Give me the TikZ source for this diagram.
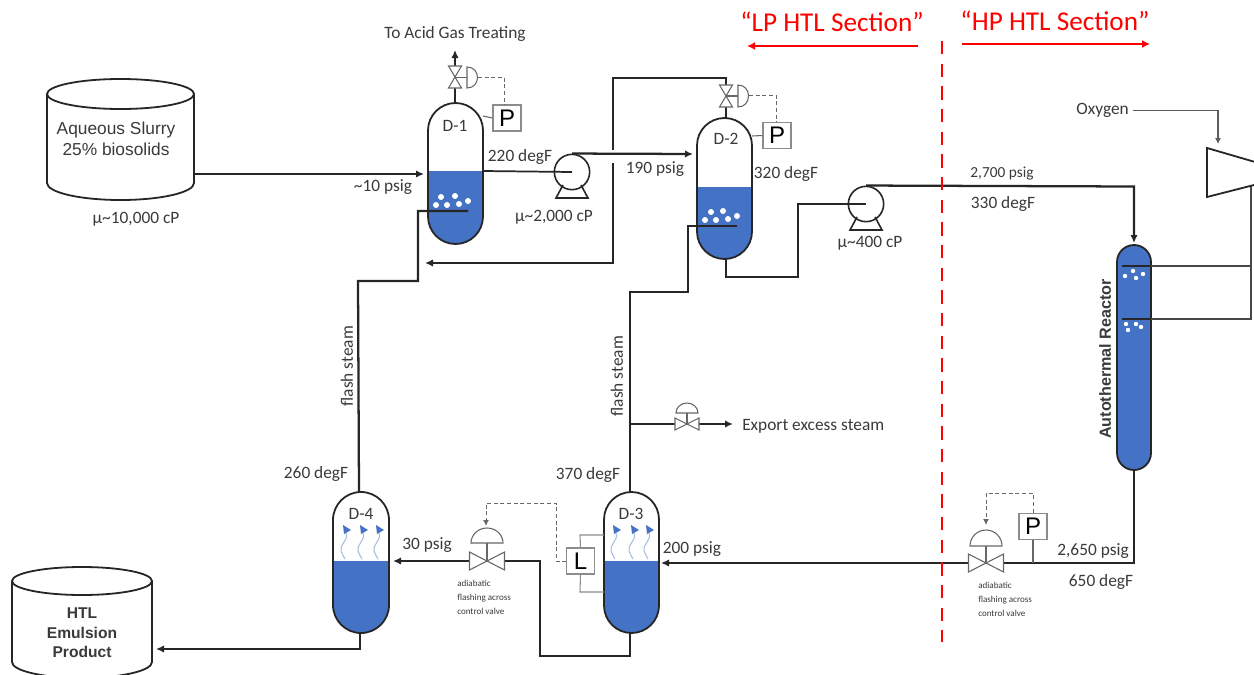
\documentclass[tikz,border=0pt]{standalone}
\usepackage{fontspec}
\setmainfont{Carlito}
\newfontfamily\arialf{Liberation Sans}
\usetikzlibrary{arrows.meta,calc}
\definecolor{liq}{HTML}{4472C4}
\definecolor{ink}{HTML}{262626}
\definecolor{txt}{HTML}{3A3A3A}
\definecolor{boxg}{HTML}{8C8C8C}
\definecolor{wave}{HTML}{A9BEE6}
\tikzset{
  pipe/.style={draw=ink,line width=1.7pt,line join=miter},
  thinpipe/.style={draw=ink!85,line width=0.8pt},
  flow/.style={pipe,-{Latex[length=6pt,width=5.5pt]}},
  vesselline/.style={draw=ink,line width=1.35pt},
  valveline/.style={draw=ink!70,line width=0.8pt,fill=white},
  signal/.style={draw=ink!70,line width=0.75pt,densely dashed},
  signalarrow/.style={signal,-{Latex[length=4.5pt,width=4.5pt]}},
  instr/.style={draw=boxg,line width=0.8pt,fill=white,inner sep=0pt,text=black,font=\arialf\fontsize{18}{18}\selectfont},
  lab/.style={text=txt,inner sep=0pt,yshift=-0.9pt,font=\fontsize{13}{15}\selectfont},
  small/.style={text=txt,inner sep=0pt,align=left,font=\fontsize{6.8}{10.4}\selectfont},
  redlab/.style={text=red,inner sep=0pt,font=\fontsize{20.4}{22}\selectfont},
  redflow/.style={draw=red,line width=1.5pt,-{Latex[length=6pt,width=6pt]}},
  pumpc/.style={circle,draw=ink,line width=1.2pt,fill=white,inner sep=0pt,minimum size=26.5pt},
}
% xl xr top bot liquidtop
\newcommand\drawvessel[5]{%
  \pgfmathsetmacro\vr{(#2-#1)/2}
  \fill[liq] (#1,#5) -- (#1,#4-\vr) arc[start angle=180,end angle=0,radius=\vr] -- (#2,#5) -- cycle;
  \path[vesselline] (#1,#3+\vr) arc[start angle=180,end angle=360,radius=\vr] -- (#2,#4-\vr)
     arc[start angle=0,end angle=180,radius=\vr] -- cycle;
}
\newcommand\drawfullvessel[4]{%
  \pgfmathsetmacro\vr{(#2-#1)/2}
  \path[vesselline,fill=liq] (#1,#3+\vr) arc[start angle=180,end angle=360,radius=\vr] -- (#2,#4-\vr)
     arc[start angle=0,end angle=180,radius=\vr] -- cycle;
}
% cx cy half-width halfheight: horizontal valve body
\newcommand\hvalve[4]{%
  \path[valveline] (#1,#2) -- (#1-#3,#2-#4) -- (#1-#3,#2+#4) -- cycle;
  \path[valveline] (#1,#2) -- (#1+#3,#2-#4) -- (#1+#3,#2+#4) -- cycle;
}
\newcommand\vvalve[4]{%
  \path[valveline] (#1,#2) -- (#1-#3,#2-#4) -- (#1+#3,#2-#4) -- cycle;
  \path[valveline] (#1,#2) -- (#1-#3,#2+#4) -- (#1+#3,#2+#4) -- cycle;
}
% cx top bottom halfwidth : dome (flat at bottom), stem to body
\newcommand\dome[5]{%
  \path[valveline] (#1-#4,#3) arc[start angle=180,end angle=360,x radius=#4,y radius=#3-#2] -- cycle;
  \draw[ink!70,line width=0.8pt] (#1,#3) -- (#1,#5);
}
% xl stem-x ytop ybot : D actuator to the right
\newcommand\sideact[4]{%
  \draw[ink!70,line width=0.8pt] (#2-12,#3/2+#4/2) -- (#2,#3/2+#4/2);
  \path[valveline] (#2,#3) .. controls (#2+14,#3) and (#2+14,#4) .. (#2,#4) -- cycle;
}
\newcommand\bubble[3]{\fill[white] (#1,#2) circle[radius=#3];}
% x : rising vapour
\newcommand\vapour[1]{%
  \draw[wave,line width=0.8pt] (#1+2,533) .. controls (#1+5,540) and (#1-5,545) .. (#1-3,551) .. controls (#1-2,554) and (#1,557) .. (#1+1,559);
  \fill[liq] (#1-1,525) -- (#1+7,530) -- (#1,534) -- cycle;
}
% cx cy rx ry sidesbottom
\newcommand\tank[5]{%
  \path[vesselline,fill=white] (#1-#3,#2) -- (#1-#3,#5) arc[start angle=180,end angle=0,x radius=#3,y radius=#4+2] -- (#1+#3,#2);
  \path[vesselline,fill=white] (#1,#2) ellipse[x radius=#3,y radius=#4];
}
\newcommand\pumpstand[2]{%
  \draw[ink,line width=1.2pt,line join=miter] (#1-9,#2+13) -- (#1-16,#2+26) -- (#1+16,#2+26) -- (#1+9,#2+13);
}
\begin{document}
\begin{tikzpicture}[x=0.75pt,y=-0.75pt]
\useasboundingbox (0,0) rectangle (1254,675);
\fill[white] (0,0) rectangle (1254,675);

% ---------- anchors
\coordinate (tankaout) at (194,174);
\coordinate (d1in) at (424,174);
\coordinate (d1liq) at (483,171);
\coordinate (d1top) at (455,103);
\coordinate (d1vent) at (455,50);
\coordinate (d2top) at (726,118);
\coordinate (d2bot) at (726,259);
\coordinate (d3top) at (630,492);
\coordinate (d3bot) at (630,633);
\coordinate (d4top) at (359,492);
\coordinate (d4bot) at (360,633);
\coordinate (d4in) at (393,561);
\coordinate (d3in) at (661,563);
\coordinate (d2in) at (693,154);
\coordinate (retn) at (425,263);
\coordinate (tee) at (630,424);
\coordinate (rtop) at (1134,243);
\coordinate (rbot) at (1134,470);
\coordinate (cross) at (613,150);
\coordinate (cross2) at (613,163);
\coordinate (oxyin) at (1218,144);

% ---------- tanks
\tank{120.5}{94}{73.5}{15}{183}
\tank{82}{581}{70}{14}{662}

% ---------- vessels
\drawvessel{428}{483}{103}{244}{171}
\drawvessel{697}{752}{118}{259}{187}
\drawvessel{604}{659}{492}{633}{561}
\drawvessel{333}{389}{492}{633}{561}
\drawfullvessel{1117}{1151}{245}{470}

% bubbles
\bubble{441}{197}{3}\bubble{455}{196}{3}\bubble{468}{201}{3}\bubble{459}{204}{3}\bubble{447}{205}{3}\bubble{436}{205}{3}
\bubble{711}{212}{3}\bubble{723}{211}{3}\bubble{737}{216}{3}\bubble{728}{219}{3}\bubble{716}{220}{3}\bubble{705}{220}{3}
\bubble{1125}{276}{2.2}\bubble{1133}{271}{2.2}\bubble{1143}{274}{2.2}\bubble{1136}{278}{2.2}
\bubble{1126}{324}{2.2}\bubble{1136}{324}{2.2}\bubble{1141}{327}{2.2}\bubble{1128}{330}{2.2}

% vapour
\vapour{344}\vapour{361}\vapour{377}
\vapour{614}\vapour{632}\vapour{647}

% ---------- pipes
\draw[flow] (tankaout) -- (d1in);
\draw[flow] (d1top) -- (d1vent);
\node[pumpc] (pump1) at (572,172) {};
\pumpstand{572}{172}
\draw[draw=ink,line width=1.3pt] (d1liq) -- (pump1.center);
\draw[flow] (pump1.north) -- (d2in);

\draw[pipe] (d2top) -- (726,78) -- (613,78) -- (cross);
\draw[flow] (cross2) -- (613,263) -- (retn);

\draw[pipe] (468,211) -- (418,211) -- (418,281) -- (358,281) -- (d4top);
\draw[pipe] (737,226) -- (688,226) -- (688,292) -- (630,292) -- (d3top);

\node[pumpc] (pump2) at (866,204) {};
\pumpstand{866}{204}
\draw[pipe] (d2bot) -- (726,277) -- (798,277) -- (798,204) -- (pump2.center);
\draw[flow] (pump2.north) -- (1134,186.5) -- (rtop);

\draw[flow] (tee) -- (733,424);
\draw[flow] (rbot) -- (1134,563) -- (d3in);
\draw[flow] (d3bot) -- (630,656) -- (540,656) -- (540,561) -- (d4in);
\draw[flow] (d4bot) -- (360,649) -- (156,649);

% reactor oxygen lines
\draw[line width=1.6pt,draw=ink] (1122,266) -- (1151,266);
\draw[line width=1.6pt,draw=ink] (1122,319) -- (1151,319);
\draw[thinpipe] (1151,266) -- (1251,266);
\draw[thinpipe] (1151,319) -- (1251,319) -- (1251,185);
\path[vesselline,fill=white] (1254,161.7) -- (1207,148) -- (1207,197) -- (1254,185);
\node[lab,anchor=east] (oxy) at (1129,109) {Oxygen};
\draw[ink!75,line width=0.8pt,-{Latex[length=4.5pt,width=4.5pt]}] ([xshift=3pt]oxy.east) -| (oxyin);

% ---------- valves
\vvalve{455}{77}{6.5}{11}
\sideact{467}{467}{67}{88}
\vvalve{726}{96}{6.5}{11}
\sideact{738}{738}{85}{107}

\dome{487}{528}{543}{16}{561}
\hvalve{487}{561}{17.5}{9}
\dome{986}{530}{546}{16}{563}
\hvalve{986}{563}{17.5}{9}
\dome{687}{403}{413}{11}{424}
\hvalve{687}{424}{12}{6}

% ---------- instruments
\node[instr,minimum width=21pt,minimum height=19.5pt] (p1) at (507,118) {P};
\node[instr,minimum width=21pt,minimum height=19.5pt] (p2) at (777,135.5) {P};
\node[instr,minimum width=21pt,minimum height=20pt] (p3) at (1033,526.5) {P};
\node[instr,minimum width=20.5pt,minimum height=19.5pt] (l1) at (580.5,561) {L};

\draw[ink!70,line width=0.8pt] (483,116) -- (p1.west);
\draw[ink!70,line width=0.8pt] (752,136) -- (p2.west);
\draw[ink!70,line width=0.8pt] (p3.south) -- (1033,563);
\draw[boxg,line width=0.8pt] (l1.north) -- (580,535) -- (604,535);
\draw[boxg,line width=0.8pt] (l1.south) -- (580,592) -- (604,592);

\draw[signal] (478,77) -- (504,77) -- (504,105);
\draw[signal] (749,95) -- (776,95) -- (776,122);
\draw[signalarrow] (p3.north) -- (1033,493) -- (986,493) -- (986,525);
\draw[signalarrow] (l1.west) -- (556,561) -- (556,503) -- (486,503) -- (486,526);

% ---------- red
\draw[red,line width=1.5pt,dash pattern=on 10pt off 7pt] (941.5,41) -- (941.5,642);
\node[redlab] (lp) at (832,22) {“LP HTL Section”};
\node[redlab] (hp) at (1055,21) {“HP HTL Section”};
\draw[redflow] (918,46) -- (747,46);
\draw[redflow] (962,44) -- (1150,44);

% ---------- text
\node[lab] (acid) at (455,33) {To Acid Gas Treating};
\node[lab] at (455,125) {D-1};
\node[lab] at (726,138) {D-2};
\node[lab] at (631,513) {D-3};
\node[lab] at (361,513) {D-4};
\node[lab] at (520,156) {220 degF};
\node[lab] at (383,186) {\textasciitilde10 psig};
\node[lab] at (554,216) {µ\textasciitilde2,000 cP};
\node[lab] at (655,168) {190 psig};
\node[lab] at (786,173) {320 degF};
\node[lab] at (870,242) {µ\textasciitilde400 cP};
\node[lab,font=\fontsize{11.5}{13}\selectfont] at (1002,172) {2,700 psig};
\node[lab] at (1003,203) {330 degF};
\node[lab] at (136,218) {µ\textasciitilde10,000 cP};
\node[lab,rotate=90] at (347,365) {flash steam};
\node[lab,rotate=90] at (617,375) {flash steam};
\node[lab] at (316,473) {260 degF};
\node[lab] at (588,474) {370 degF};
\node[lab] at (427,544) {30 psig};
\node[lab] at (692,548) {200 psig};
\node[lab] at (1093,550) {2,650 psig};
\node[lab] at (1101,581) {650 degF};
\node[lab,anchor=west] (exp) at (742,425) {Export excess steam};
\node[small,anchor=north west] at (457,580) {adiabatic\\flashing across\\control valve};
\node[small,anchor=north west] at (978,582) {adiabatic\\flashing across\\control valve};
\node[text=txt,inner sep=0pt,align=center,font=\arialf\fontsize{13}{15.8}\selectfont] at (116,138.5) {Aqueous Slurry\\25\% biosolids};
\node[text=txt,inner sep=0pt,align=center,font=\arialf\bfseries\fontsize{11.7}{14.6}\selectfont] at (82,633) {HTL\\Emulsion\\Product};
\node[text=txt,inner sep=0pt,rotate=90,font=\arialf\bfseries\fontsize{12.1}{14}\selectfont] at (1105,359) {Autothermal Reactor};
\end{tikzpicture}
\end{document}
